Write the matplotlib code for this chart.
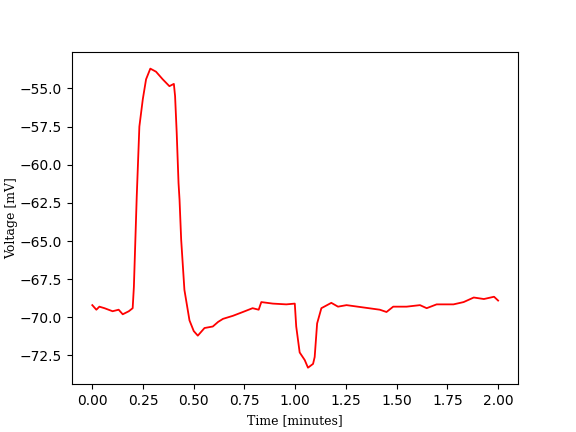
import matplotlib
matplotlib.use("Agg")
import matplotlib.pyplot as plt

# time in minutes, voltage in mV
tiempo = [0.0, 0.02, 0.035, 0.06, 0.10, 0.13, 0.15, 0.18, 0.199, 0.205, 0.219, 0.232,
          0.249, 0.265, 0.286, 0.314, 0.347, 0.380, 0.402, 0.408, 0.416, 0.425,
          0.430, 0.438, 0.454, 0.479, 0.500, 0.520, 0.553, 0.594, 0.620, 0.644,
          0.693, 0.742, 0.790, 0.820, 0.833, 0.890, 0.956, 0.998, 1.005, 1.022,
          1.047, 1.063, 1.088, 1.096, 1.108, 1.129, 1.178, 1.211, 1.253, 1.335,
          1.417, 1.450, 1.483, 1.549, 1.615, 1.648, 1.697, 1.780, 1.830, 1.880,
          1.930, 1.980, 2.000]
voltaje = [-69.2, -69.5, -69.3, -69.4, -69.6, -69.5, -69.8, -69.6, -69.4, -68.0, -62.1,
           -57.5, -55.7, -54.4, -53.7, -53.9, -54.4, -54.85, -54.7, -55.5, -57.9,
           -61.2, -62.3, -64.9, -68.2, -70.2, -70.9, -71.2, -70.7, -70.6, -70.3,
           -70.1, -69.9, -69.65, -69.4, -69.5, -69.0, -69.1, -69.15, -69.1, -70.6,
           -72.3, -72.8, -73.3, -73.05, -72.6, -70.4, -69.4, -69.05, -69.3, -69.2,
           -69.35, -69.5, -69.65, -69.3, -69.3, -69.2, -69.4, -69.15, -69.15, -69.0,
           -68.7, -68.8, -68.65, -68.9]

fig, ax = plt.subplots(figsize=(5.76, 4.32), dpi=100)
ax.plot(tiempo, voltaje, color="red", linewidth=1.3)
ax.set_xlabel("Time [minutes]", family="DejaVu Serif", fontsize=9)
ax.set_ylabel("Voltage [mV]", family="DejaVu Serif", fontsize=9, labelpad=1)
ax.set_ylim(-74.4, -52.6)
fig.savefig("out.png")
